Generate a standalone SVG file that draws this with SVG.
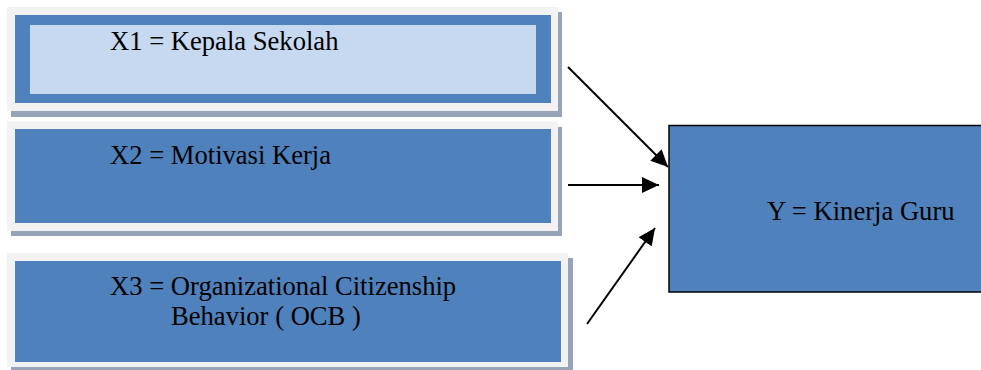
<svg xmlns="http://www.w3.org/2000/svg" width="981" height="370" viewBox="0 0 981 370">
  <style>
    .shadow { fill: #97a4b8; }
    .frame { fill: #f2f2f2; }
    .blue { fill: #4f81bd; }
    .light { fill: #c6d9f0; }
    .label { font-size: 26.6px; fill: #000; }
    .conn { stroke: #000; stroke-width: 2; fill: none; marker-end: url(#arrow); }
  </style>
  <defs>
    <marker id="arrow" markerUnits="userSpaceOnUse" markerWidth="19" markerHeight="17" refX="17" refY="8" orient="auto">
      <path d="M0,0 L17,8 L0,16 Z" fill="#000"/>
    </marker>
  </defs>
  <rect x="0" y="0" width="981" height="370" fill="#fff"/>

  <g font-family="'Liberation Serif', 'DejaVu Serif', serif">
  <g id="x1">
    <rect class="shadow" x="11" y="12" width="551" height="105"/>
    <rect class="frame" x="7" y="7" width="551" height="104"/>
    <rect class="blue" x="15" y="15" width="536" height="88"/>
    <rect class="light" x="30" y="25" width="506" height="69"/>
    <text class="label" x="110" y="50">X1 = Kepala Sekolah</text>
  </g>

  <g id="x2">
    <rect class="shadow" x="11" y="127" width="551" height="109"/>
    <rect class="frame" x="7" y="121.5" width="551" height="109.5"/>
    <rect class="blue" x="15" y="129" width="536" height="94"/>
    <text class="label" x="110" y="164">X2 = Motivasi Kerja</text>
  </g>

  <g id="x3">
    <rect class="shadow" x="11" y="258" width="562" height="114"/>
    <rect class="frame" x="7" y="253" width="561" height="114"/>
    <rect class="blue" x="15" y="261" width="546" height="101"/>
    <text class="label" x="110" y="295">X3 = Organizational Citizenship</text>
    <text class="label" x="171" y="325">Behavior ( OCB )</text>
  </g>

  <g id="y">
    <rect x="669" y="125.5" width="320" height="166.5" fill="#4f81bd" stroke="#000" stroke-width="1.5"/>
    <text class="label" x="767" y="220">Y = Kinerja Guru</text>
  </g>
  </g>

  <g id="connectors">
    <line class="conn" x1="568" y1="67" x2="668" y2="167"/>
    <line class="conn" x1="568" y1="185" x2="659" y2="185"/>
    <line class="conn" x1="587" y1="324" x2="655" y2="228"/>
  </g>
</svg>
